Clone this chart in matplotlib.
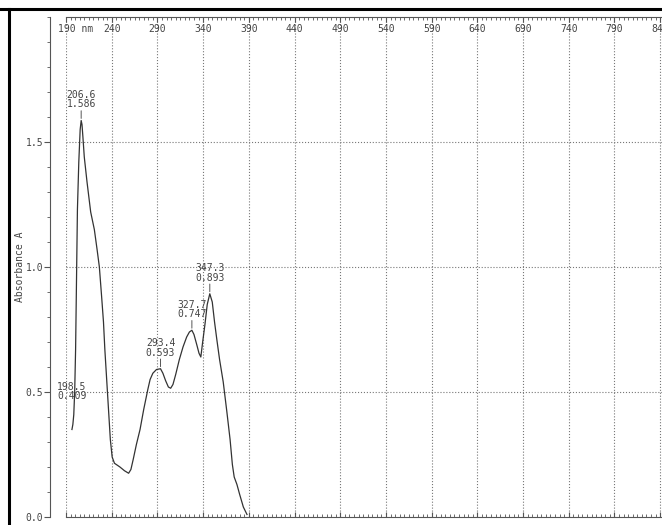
"""
UV-Vis absorbance spectrum (190-840 nm) with labelled peaks.
"""

import numpy as np
from matplotlib import pyplot as plt
from matplotlib.lines import Line2D
from matplotlib.ticker import MultipleLocator
import matplotlib.transforms as mtransforms

# Traced spectrum: wavelength (nm) and absorbance (A)
wavelength = [196.5, 197.5, 199.5, 200.5, 201.5, 202.5, 204.0, 205.5,
              207.5, 208.5, 210.0, 213.0, 217.0, 221.0, 224.0, 226.5,
              229.0, 231.0, 232.5, 234.5, 236.5, 238.5, 240.5, 243.0,
              249.0, 254.0, 258.5, 261.0, 263.5, 267.0, 271.0, 275.0,
              279.5, 282.0, 285.0, 289.0, 296.0, 299.0, 302.0, 304.5,
              307.0, 310.0, 314.0, 318.0, 322.0, 325.0, 330.0, 333.0,
              335.5, 337.5, 339.5, 342.0, 344.5, 350.0, 352.5, 355.0,
              358.0, 362.0, 366.0, 369.5, 372.0, 374.0, 377.0, 380.0,
              384.0, 388.0]
absorbance = [0.35, 0.37, 0.50, 0.67, 0.95, 1.23, 1.42, 1.55,
              1.57, 1.52, 1.44, 1.34, 1.22, 1.15, 1.07, 1.00,
              0.88, 0.78, 0.67, 0.55, 0.43, 0.31, 0.24, 0.215,
              0.20, 0.185, 0.175, 0.19, 0.23, 0.29, 0.35, 0.43,
              0.51, 0.55, 0.575, 0.59, 0.575, 0.545, 0.52, 0.515,
              0.53, 0.57, 0.63, 0.68, 0.72, 0.74, 0.73, 0.69,
              0.655, 0.64, 0.70, 0.77, 0.85, 0.86, 0.78, 0.71,
              0.63, 0.54, 0.42, 0.31, 0.21, 0.16, 0.13, 0.09,
              0.04, 0.01]

# Peak-pick results printed by the instrument
peak_nm = [198.5, 206.6, 293.4, 327.7, 347.3]
peak_abs = [0.409, 1.586, 0.593, 0.747, 0.893]

# Axis ticks
x_ticks = np.arange(190, 841, 50)
y_ticks = [0.0, 0.5, 1.0, 1.5]

# Merge picked peaks into the curve
wl = np.array(wavelength + peak_nm)
ab = np.array(absorbance + peak_abs)
order = np.argsort(wl)
wl, ab = wl[order], ab[order]

txt = '#444444'
plt.rcParams['font.family'] = ['DejaVu Sans Mono']
plt.rcParams['font.size'] = 7

fig = plt.figure(figsize=(6.62, 5.25), dpi=100)
ax = fig.add_axes([66/662, 8/525, 1 - 66/662, 500/525])
ax.set_xlim(190, 842)
ax.set_ylim(0, 2.0)

# Spectrum
ax.plot(wl, ab, '-', color='#333333', linewidth=0.9)

# Dotted grid
for x in x_ticks:
    ax.axvline(x, color='#777777', linestyle=':', linewidth=0.8, zorder=0)
for y in y_ticks[1:]:
    ax.axhline(y, color='#777777', linestyle=':', linewidth=0.8, zorder=0)

# Peak labels with small marker stroke
for i, (xp, yp) in enumerate(zip(peak_nm, peak_abs)):
    if i == 0:
        ax.annotate(f'{xp:.1f}\n{yp:.3f}', (xp, yp), xytext=(-1.5, 16.5),
                    textcoords='offset points', ha='center', va='center',
                    color=txt, fontsize=7, linespacing=0.9)
        continue
    ax.annotate('', (xp, yp), xytext=(0, 7), textcoords='offset points',
                arrowprops=dict(arrowstyle='-', color='#555555', lw=0.7,
                                shrinkA=0, shrinkB=1.5))
    ax.annotate(f'{xp:.1f}\n{yp:.3f}', (xp, yp), xytext=(0, 8),
                textcoords='offset points', ha='center', va='bottom',
                color=txt, fontsize=7, linespacing=0.9)

# Top wavelength ruler with labels inside the frame
ax.set_xticks(x_ticks)
ax.set_xticklabels([f'{t}' for t in x_ticks])
ax.xaxis.set_minor_locator(MultipleLocator(5))
ax.tick_params(axis='x', which='both', direction='in', top=True, bottom=True,
               labeltop=True, labelbottom=False, colors='#555555',
               labelcolor=txt, labelsize=7)
ax.tick_params(axis='x', which='major', length=3.5, pad=-12)
ax.tick_params(axis='x', which='minor', length=2)
labels = ax.get_xticklabels(which='major')
labels[0].set_text('190 nm')
ax.set_xticklabels([lb.get_text() for lb in labels])
first = ax.get_xticklabels()[0]
first.set_horizontalalignment('left')
first.set_transform(first.get_transform() +
                    mtransforms.ScaledTranslation(-8/100, 0, fig.dpi_scale_trans))

# Absorbance axis set off to the left
ax.set_yticks(y_ticks)
ax.set_yticklabels([f'{t:.1f}' for t in y_ticks])
ax.yaxis.set_minor_locator(MultipleLocator(0.1))
ax.tick_params(axis='y', which='both', direction='out', colors='#555555',
               labelcolor=txt, labelsize=7)
ax.tick_params(axis='y', which='major', length=4, pad=1)
ax.tick_params(axis='y', which='minor', length=2)
ax.spines['left'].set_position(('outward', 11.5))
ax.spines['right'].set_visible(False)
for s in ['left', 'top', 'bottom']:
    ax.spines[s].set_color('#555555')
    ax.spines[s].set_linewidth(0.8)
ax.set_ylabel('Absorbance A', color=txt, fontsize=7)
ax.yaxis.set_label_coords(-0.068, 0.5)

# Page edge
fig.add_artist(Line2D([0, 1], [516/525, 516/525], color='black', linewidth=2.2))
fig.add_artist(Line2D([9/662, 9/662], [0, 516/525], color='black', linewidth=2.2))

fig.savefig('out.png', dpi=100)
